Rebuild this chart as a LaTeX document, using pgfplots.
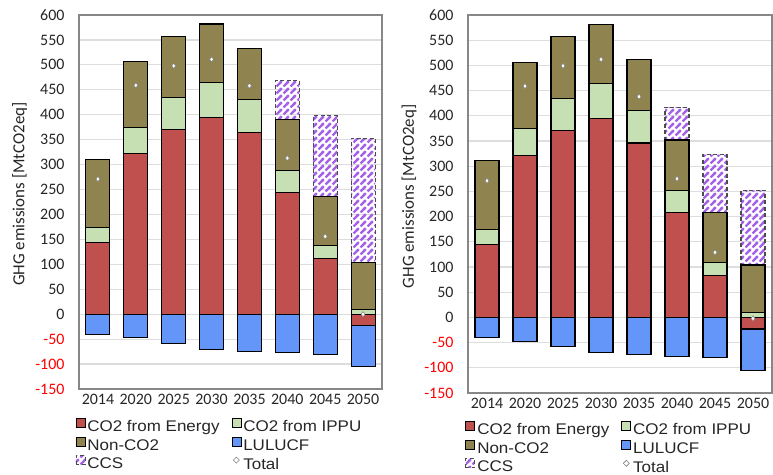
\documentclass[border=0pt]{standalone}
\usepackage{pgfplots}
\usepackage{pgfplotstable}
\pgfplotsset{compat=1.18}
\usepackage{fontspec}
\setmainfont{Carlito}
\newfontfamily\legfont{Liberation Sans}[FakeStretch=1.1]
\usetikzlibrary{patterns}
\definecolor{cEn}{HTML}{C0504D}
\definecolor{cIP}{HTML}{C6E0B4}
\definecolor{cNC}{HTML}{8F8450}
\definecolor{cLU}{HTML}{6496FA}
\definecolor{cCCS}{HTML}{A461E8}
\definecolor{frm}{HTML}{878787}
\definecolor{gridc}{HTML}{DDDDDD}
\definecolor{txt}{HTML}{262626}

\pgfdeclarepatternformonly{ccsstripes}{\pgfpoint{-1bp}{-1bp}}{\pgfpoint{8bp}{8bp}}{\pgfpoint{7bp}{7bp}}{%
  \pgfsetlinewidth{2.4bp}%
  \pgfpathmoveto{\pgfpoint{-1bp}{-1bp}}\pgfpathlineto{\pgfpoint{8bp}{8bp}}%
  \pgfpathmoveto{\pgfpoint{-1bp}{6bp}}\pgfpathlineto{\pgfpoint{1bp}{8bp}}%
  \pgfpathmoveto{\pgfpoint{6bp}{-1bp}}\pgfpathlineto{\pgfpoint{8bp}{1bp}}%
  \pgfusepath{stroke}}

% x Epos IPPU NonCO2 CCS Eneg LULUCF Total
\pgfplotstableread{
x Epos IPPU Non CCS Eneg LUL Tot
0 144 30 137 0   0   -40 271
1 322 53 131 0   0   -47 459
2 370 65 122 0   0   -59 498
3 395 69 118 0   0   -71 511
4 365 66 101 0   0   -74 458
5 244 44 102 78  0   -77 313
6 111 26 99  162 0   -80 156
7 0   9  95  249 -22 -82 0
}\leftdata
\pgfplotstableread{
x Epos IPPU Non CCS Eneg LUL Tot
0 144 30 137 0   0   -40 271
1 322 53 131 0   0   -47 459
2 370 65 122 0   0   -58 499
3 395 69 118 0   0   -70 512
4 346 64 101 0   0   -73 438
5 209 42 101 65  0   -77 275
6 83  26 100 114 0   -80 129
7 0   10 94  148 -23 -83 -2
}\rightdata

\pgfplotsset{
  geom/.style n args={2}{
    width=#1, height=#2, scale only axis,
    xmin=-0.5, xmax=7.5, ymin=-150, ymax=600,
  },
  chart/.style={
    ybar stacked, bar width=24bp,
    xtick={0,...,7},
    xticklabels={2014,2020,2025,2030,2035,2040,2045,2050},
    ytick={-150,-100,...,600},
    yticklabels={{\color{red}-150},{\color{red}-100},{\color{red}-50},0,50,100,150,200,250,300,350,400,450,500,550,600},
    major tick length=0pt,
    axis line style={draw=frm, line width=1.3bp},
    ymajorgrids, grid style={gridc, line width=1.2bp},
    tick label style={font=\fontsize{16}{19}\selectfont, text=txt},
    yticklabel style={xshift=-11bp},
    xticklabel style={yshift=-2bp},
    ylabel={GHG emissions [MtCO2eq]},
    ylabel style={font=\fontsize{17}{20}\selectfont, text=txt},
    legend columns=2,
    legend cell align=left,
    legend style={draw=none, fill=none, inner sep=0pt, font=\legfont\fontsize{15.5}{18}\selectfont, text=txt,
      row sep=1.5bp,
      /tikz/every even column/.append style={column sep=10bp}},
    legend image code/.code={\draw[##1, line width=0.8bp] (0bp,-0.5bp) rectangle (9bp,8.5bp);},
  },
  negs/.style={ybar stacked, bar width=24bp, hide axis},
  bstyle/.style={draw=black, line width=1.1bp},
  ccsstyle/.style={pattern=ccsstripes, pattern color=cCCS, draw=black!70, line width=1.1bp, dash pattern=on 4bp off 2.5bp},
  totstyle/.style={only marks, mark=diamond*, mark size=2.6bp, mark options={fill=white, draw=gray, line width=0.5bp}},
}

\begin{document}
\begin{tikzpicture}
\useasboundingbox (0,0) rectangle (773bp,-475bp);
% ---------- left chart ----------
\begin{axis}[geom={303bp}{374bp}, chart, at={(79bp,-389bp)}, anchor=south west,
  ylabel style={at={(axis description cs:-0.196,0.521)}, anchor=center},
  legend style={at={(axis description cs:-0.012,-0.077)}, anchor=north west}]
\addlegendimage{fill=cEn, draw=black}\addlegendentry{CO2 from Energy}
\addlegendimage{fill=cIP, draw=black}\addlegendentry{CO2 from IPPU}
\addlegendimage{fill=cNC, draw=black}\addlegendentry{Non-CO2}
\addlegendimage{fill=cLU, draw=black}\addlegendentry{LULUCF}
\addlegendimage{ccsstyle}\addlegendentry{CCS}
\addlegendimage{legend image code/.code={\draw[fill=white, draw=gray, line width=0.6bp] (4.5bp,1bp) -- (7.5bp,4bp) -- (4.5bp,7bp) -- (1.5bp,4bp) -- cycle;}}\addlegendentry{Total}
\addplot[bstyle, fill=cEn, forget plot] table[x=x, y=Epos]{\leftdata};
\addplot[bstyle, fill=cIP, forget plot] table[x=x, y=IPPU]{\leftdata};
\addplot[bstyle, fill=cNC, forget plot] table[x=x, y=Non]{\leftdata};
\addplot[ccsstyle, forget plot] table[x=x, y=CCS]{\leftdata};
\end{axis}
\begin{axis}[geom={303bp}{374bp}, negs, at={(79bp,-389bp)}, anchor=south west]
\addplot[bstyle, fill=cEn] table[x=x, y=Eneg]{\leftdata};
\addplot[bstyle, fill=cLU] table[x=x, y=LUL]{\leftdata};
\end{axis}
\begin{axis}[geom={303bp}{374bp}, hide axis, at={(79bp,-389bp)}, anchor=south west]
\addplot[totstyle] table[x=x, y=Tot]{\leftdata};
\end{axis}
% ---------- right chart ----------
\begin{axis}[geom={304bp}{378bp}, chart, at={(468bp,-393bp)}, anchor=south west,
  ylabel style={at={(axis description cs:-0.194,0.52)}, anchor=center},
  legend style={at={(axis description cs:-0.009,-0.074)}, anchor=north west}]
\addlegendimage{fill=cEn, draw=black}\addlegendentry{CO2 from Energy}
\addlegendimage{fill=cIP, draw=black}\addlegendentry{CO2 from IPPU}
\addlegendimage{fill=cNC, draw=black}\addlegendentry{Non-CO2}
\addlegendimage{fill=cLU, draw=black}\addlegendentry{LULUCF}
\addlegendimage{ccsstyle}\addlegendentry{CCS}
\addlegendimage{legend image code/.code={\draw[fill=white, draw=gray, line width=0.6bp] (4.5bp,1bp) -- (7.5bp,4bp) -- (4.5bp,7bp) -- (1.5bp,4bp) -- cycle;}}\addlegendentry{Total}
\addplot[bstyle, fill=cEn, forget plot] table[x=x, y=Epos]{\rightdata};
\addplot[bstyle, fill=cIP, forget plot] table[x=x, y=IPPU]{\rightdata};
\addplot[bstyle, fill=cNC, forget plot] table[x=x, y=Non]{\rightdata};
\addplot[ccsstyle, forget plot] table[x=x, y=CCS]{\rightdata};
\end{axis}
\begin{axis}[geom={304bp}{378bp}, negs, at={(468bp,-393bp)}, anchor=south west]
\addplot[bstyle, fill=cEn] table[x=x, y=Eneg]{\rightdata};
\addplot[bstyle, fill=cLU] table[x=x, y=LUL]{\rightdata};
\end{axis}
\begin{axis}[geom={304bp}{378bp}, hide axis, at={(468bp,-393bp)}, anchor=south west]
\addplot[totstyle] table[x=x, y=Tot]{\rightdata};
\end{axis}
\end{tikzpicture}
\end{document}
